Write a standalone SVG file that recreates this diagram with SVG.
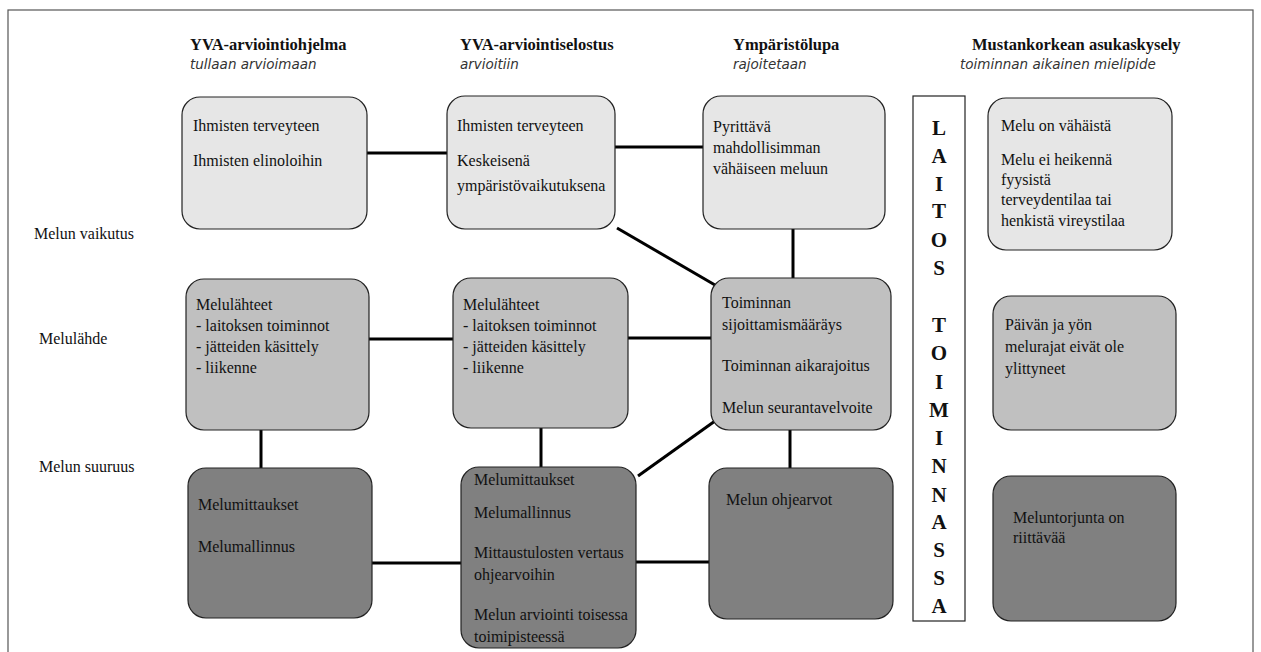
<svg xmlns="http://www.w3.org/2000/svg" width="1261" height="652" viewBox="0 0 1261 652">
  <style>
    text { font-family: "Liberation Serif", "Times New Roman", serif; font-size: 16px; fill: #111; }
    .head { font-weight: bold; font-size: 16.5px; }
    .sub { font-family: "DejaVu Sans", Verdana, sans-serif; font-style: italic; font-size: 13.5px; fill: #333; }
    .box { stroke: #222; stroke-width: 1.2; }
    .l1 { fill: #e6e6e6; }
    .l2 { fill: #c0c0c0; }
    .l3 { fill: #808080; }
    .conn line { stroke: #000; stroke-width: 3; }
    .big { font-weight: bold; font-size: 21px; text-anchor: middle; }
  </style>

  <rect x="0" y="0" width="1261" height="652" fill="#fff"/>
  <rect x="8" y="10" width="1245" height="660" fill="none" stroke="#555" stroke-width="1.2"/>

  <!-- column headings -->
  <g id="headings">
    <text class="head" x="190" y="50">YVA-arviointiohjelma</text>
    <text class="sub" x="190" y="69">tullaan arvioimaan</text>
    <text class="head" x="460" y="50">YVA-arviointiselostus</text>
    <text class="sub" x="460" y="69">arvioitiin</text>
    <text class="head" x="733" y="50">Ympäristölupa</text>
    <text class="sub" x="733" y="69">rajoitetaan</text>
    <text class="head" x="972" y="50">Mustankorkean asukaskysely</text>
    <text class="sub" x="960" y="69">toiminnan aikainen mielipide</text>
  </g>

  <!-- row labels -->
  <g id="rows">
    <text x="34" y="239">Melun vaikutus</text>
    <text x="39" y="344">Melulähde</text>
    <text x="39" y="472">Melun suuruus</text>
  </g>

  <!-- connectors -->
  <g class="conn" id="connectors">
    <line x1="367" y1="153" x2="447" y2="153"/>
    <line x1="615" y1="147" x2="703" y2="147"/>
    <line x1="617" y1="228" x2="715" y2="285"/>
    <line x1="793" y1="229" x2="793" y2="278"/>
    <line x1="369" y1="339" x2="453" y2="339"/>
    <line x1="628" y1="338" x2="711" y2="338"/>
    <line x1="261" y1="430" x2="261" y2="468"/>
    <line x1="541" y1="428" x2="541" y2="467"/>
    <line x1="715" y1="421" x2="638" y2="476"/>
    <line x1="790" y1="430" x2="790" y2="468"/>
    <line x1="372" y1="563" x2="461" y2="563"/>
    <line x1="636" y1="562" x2="709" y2="562"/>
  </g>

  <!-- row 1: effects -->
  <g id="n-ohjelma-vaikutus">
    <rect class="box l1" x="182" y="97" width="185" height="132" rx="18"/>
    <text x="193" y="131">Ihmisten terveyteen</text>
    <text x="193" y="166">Ihmisten elinoloihin</text>
  </g>
  <g id="n-selostus-vaikutus">
    <rect class="box l1" x="447" y="96" width="168" height="133" rx="18"/>
    <text x="457" y="131">Ihmisten terveyteen</text>
    <text x="457" y="166">Keskeisenä</text>
    <text x="457" y="191">ympäristövaikutuksena</text>
  </g>
  <g id="n-lupa-vaikutus">
    <rect class="box l1" x="703" y="96" width="182" height="133" rx="18"/>
    <text x="713" y="132">Pyrittävä</text>
    <text x="713" y="153">mahdollisimman</text>
    <text x="713" y="174">vähäiseen meluun</text>
  </g>
  <g id="n-kysely-vaikutus">
    <rect class="box l1" x="988" y="98" width="184" height="152" rx="18"/>
    <text x="1001" y="131">Melu on vähäistä</text>
    <text x="1001" y="165">Melu ei  heikennä</text>
    <text x="1001" y="185">fyysistä</text>
    <text x="1001" y="205">terveydentilaa tai</text>
    <text x="1001" y="226">henkistä vireystilaa</text>
  </g>

  <!-- row 2: sources -->
  <g id="n-ohjelma-lahde">
    <rect class="box l2" x="186" y="279" width="183" height="151" rx="18"/>
    <text x="196" y="310">Melulähteet</text>
    <text x="196" y="331">- laitoksen toiminnot</text>
    <text x="196" y="352">- jätteiden käsittely</text>
    <text x="196" y="373">- liikenne</text>
  </g>
  <g id="n-selostus-lahde">
    <rect class="box l2" x="453" y="278" width="175" height="150" rx="18"/>
    <text x="463" y="310">Melulähteet</text>
    <text x="463" y="331">- laitoksen toiminnot</text>
    <text x="463" y="352">- jätteiden käsittely</text>
    <text x="463" y="373">- liikenne</text>
  </g>
  <g id="n-lupa-lahde">
    <rect class="box l2" x="711" y="278" width="180" height="152" rx="18"/>
    <text x="722" y="308">Toiminnan</text>
    <text x="722" y="330">sijoittamismääräys</text>
    <text x="722" y="371">Toiminnan aikarajoitus</text>
    <text x="722" y="413">Melun seurantavelvoite</text>
  </g>
  <g id="n-kysely-lahde">
    <rect class="box l2" x="993" y="296" width="183" height="134" rx="18"/>
    <text x="1005" y="330">Päivän ja yön</text>
    <text x="1005" y="352">melurajat eivät ole</text>
    <text x="1005" y="374">ylittyneet</text>
  </g>

  <!-- row 3: magnitude -->
  <g id="n-ohjelma-suuruus">
    <rect class="box l3" x="188" y="468" width="184" height="150" rx="18"/>
    <text x="198" y="510">Melumittaukset</text>
    <text x="198" y="552">Melumallinnus</text>
  </g>
  <g id="n-selostus-suuruus">
    <rect class="box l3" x="461" y="467" width="175" height="181" rx="18"/>
    <text x="474" y="485">Melumittaukset</text>
    <text x="474" y="518">Melumallinnus</text>
    <text x="474" y="558">Mittaustulosten vertaus</text>
    <text x="474" y="580">ohjearvoihin</text>
    <text x="474" y="620">Melun arviointi toisessa</text>
    <text x="474" y="642">toimipisteessä</text>
  </g>
  <g id="n-lupa-suuruus">
    <rect class="box l3" x="709" y="468" width="184" height="151" rx="18"/>
    <text x="726" y="505">Melun ohjearvot</text>
  </g>
  <g id="n-kysely-suuruus">
    <rect class="box l3" x="993" y="476" width="183" height="145" rx="18"/>
    <text x="1013" y="523">Meluntorjunta on</text>
    <text x="1013" y="543">riittävää</text>
  </g>

  <!-- vertical banner -->
  <g id="n-laitos-toiminnassa">
    <rect x="913" y="96" width="52" height="525" fill="#fff" stroke="#222" stroke-width="1.2"/>
    <text class="big" x="939" y="135">L</text>
    <text class="big" x="939" y="163">A</text>
    <text class="big" x="939" y="191">I</text>
    <text class="big" x="939" y="218">T</text>
    <text class="big" x="939" y="247">O</text>
    <text class="big" x="939" y="275">S</text>
    <text class="big" x="939" y="332">T</text>
    <text class="big" x="939" y="360">O</text>
    <text class="big" x="939" y="389">I</text>
    <text class="big" x="939" y="417">M</text>
    <text class="big" x="939" y="445">I</text>
    <text class="big" x="939" y="473">N</text>
    <text class="big" x="939" y="502">N</text>
    <text class="big" x="939" y="529">A</text>
    <text class="big" x="939" y="557">S</text>
    <text class="big" x="939" y="585">S</text>
    <text class="big" x="939" y="613">A</text>
  </g>
</svg>
